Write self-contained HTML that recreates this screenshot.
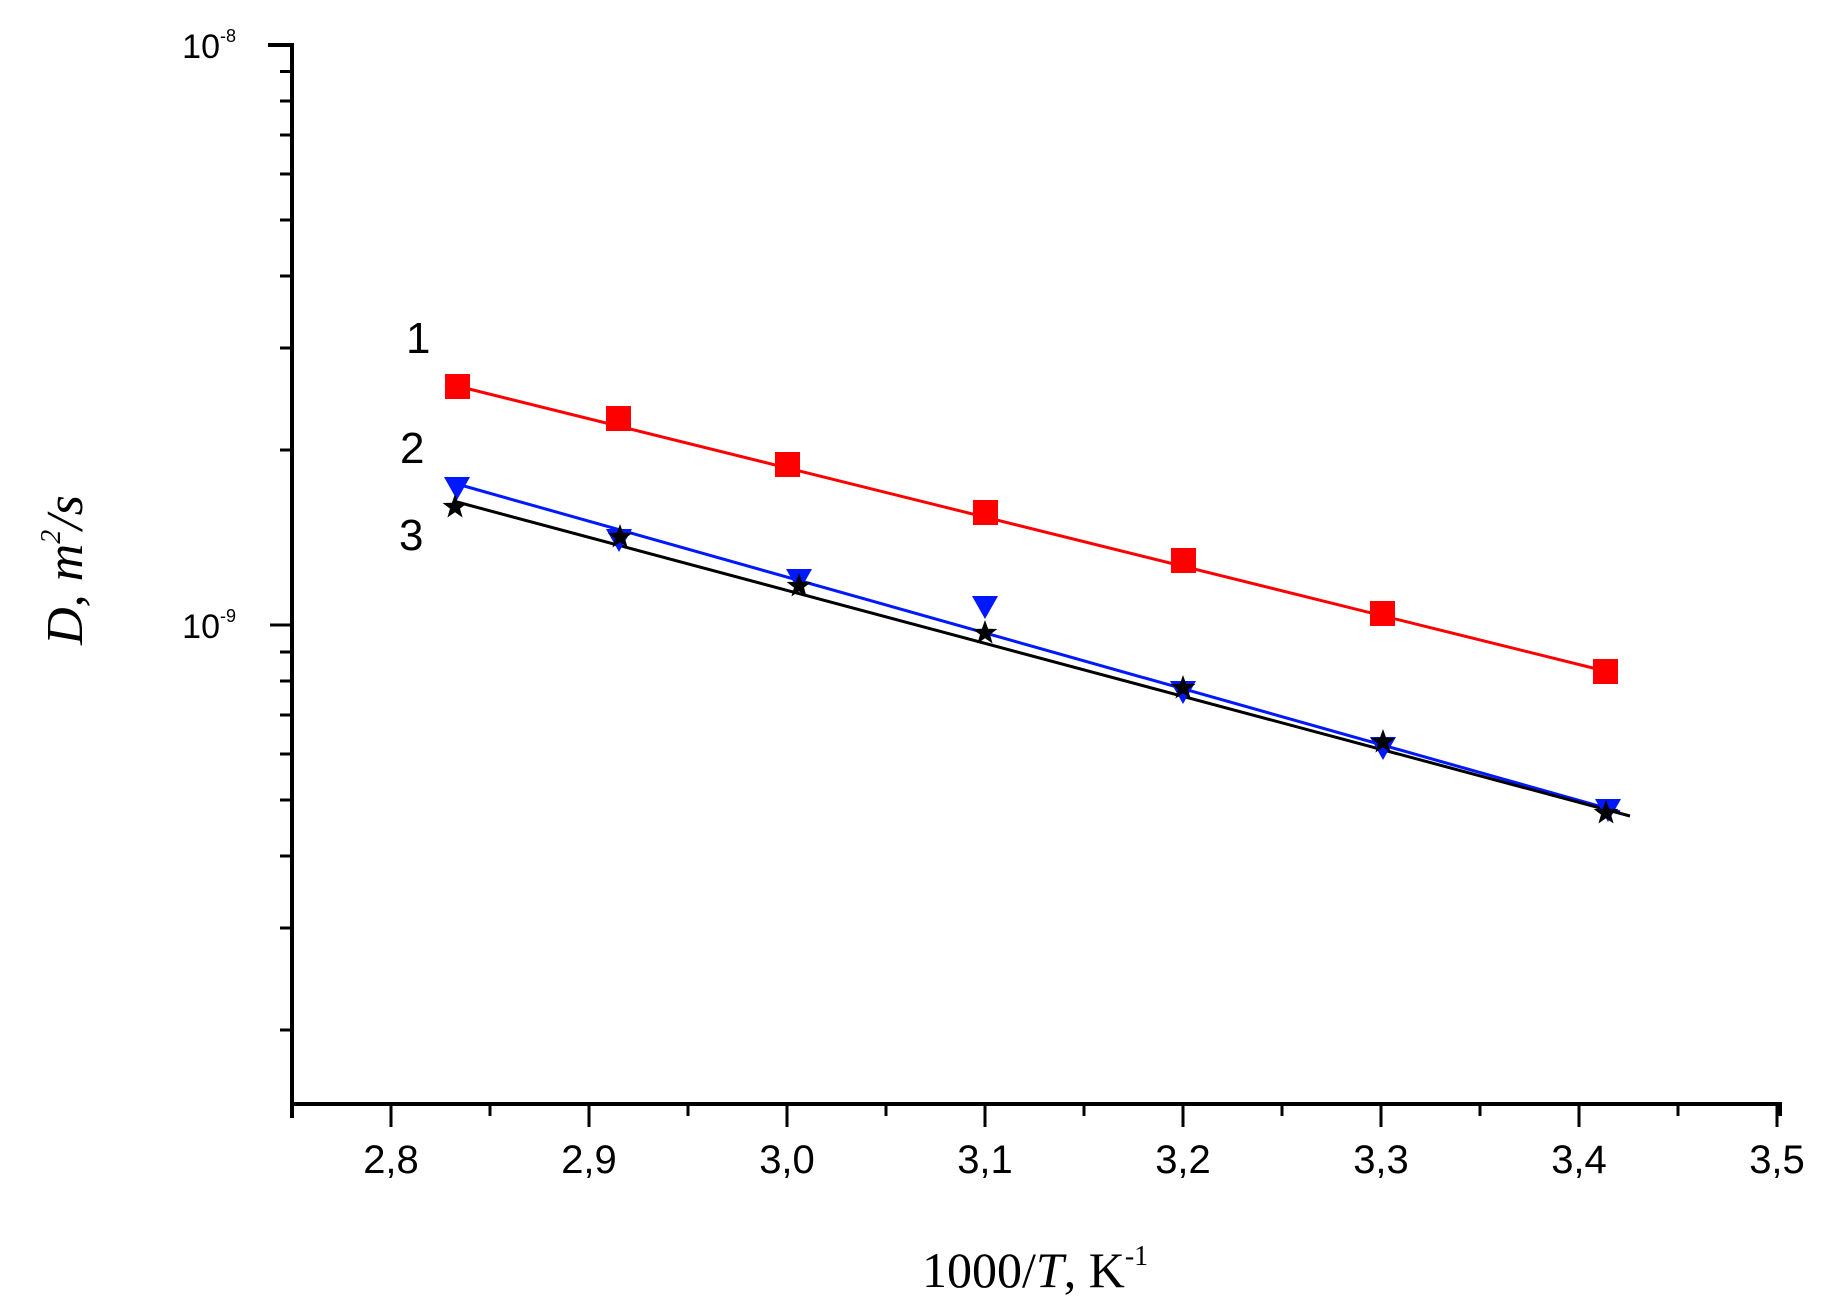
<!DOCTYPE html>
<html><head><meta charset="utf-8"><style>
html,body{margin:0;padding:0;background:#fff;}
svg{display:block;}
</style></head><body>
<svg width="1840" height="1315" viewBox="0 0 1840 1315" xmlns="http://www.w3.org/2000/svg">
<defs>
<polygon id="star" points="0,-13 3.1,-4.2 12.4,-4 5,1.6 7.6,10.5 0,5.2 -7.6,10.5 -5,1.6 -12.4,-4 -3.1,-4.2" fill="#000"/>
<polygon id="tri" points="-13,-11 13,-11 0,12" fill="#0018ff"/>
</defs>
<!-- axes -->
<g stroke="#000" stroke-width="4" fill="none">
<path d="M268 45 H292 V1104 H1780 V1116"/>
<path d="M292 1104 V1118"/>
</g>
<!-- y ticks -->
<g stroke="#000" stroke-width="3">
<line x1="270" y1="625" x2="292" y2="625"/>
<line x1="280" y1="71.5" x2="292" y2="71.5"/>
<line x1="280" y1="101" x2="292" y2="101"/>
<line x1="280" y1="135" x2="292" y2="135"/>
<line x1="280" y1="174" x2="292" y2="174"/>
<line x1="280" y1="220" x2="292" y2="220"/>
<line x1="280" y1="276" x2="292" y2="276"/>
<line x1="280" y1="348" x2="292" y2="348"/>
<line x1="280" y1="450" x2="292" y2="450"/>
<line x1="280" y1="652" x2="292" y2="652"/>
<line x1="280" y1="681" x2="292" y2="681"/>
<line x1="280" y1="715" x2="292" y2="715"/>
<line x1="280" y1="754" x2="292" y2="754"/>
<line x1="280" y1="800" x2="292" y2="800"/>
<line x1="280" y1="856" x2="292" y2="856"/>
<line x1="280" y1="928" x2="292" y2="928"/>
<line x1="280" y1="1030" x2="292" y2="1030"/>
</g>
<!-- x ticks -->
<g stroke="#000" stroke-width="3">
<line x1="391" y1="1104" x2="391" y2="1127"/>
<line x1="490" y1="1104" x2="490" y2="1116"/>
<line x1="589" y1="1104" x2="589" y2="1127"/>
<line x1="688" y1="1104" x2="688" y2="1116"/>
<line x1="787" y1="1104" x2="787" y2="1127"/>
<line x1="886" y1="1104" x2="886" y2="1116"/>
<line x1="985" y1="1104" x2="985" y2="1127"/>
<line x1="1084" y1="1104" x2="1084" y2="1116"/>
<line x1="1183" y1="1104" x2="1183" y2="1127"/>
<line x1="1282" y1="1104" x2="1282" y2="1116"/>
<line x1="1381" y1="1104" x2="1381" y2="1127"/>
<line x1="1480" y1="1104" x2="1480" y2="1116"/>
<line x1="1579" y1="1104" x2="1579" y2="1127"/>
<line x1="1678" y1="1104" x2="1678" y2="1116"/>
<line x1="1777" y1="1104" x2="1777" y2="1127"/>
</g>
<g font-family="Liberation Sans, sans-serif" font-size="40" fill="#000" text-anchor="middle">
<text x="391" y="1173">2,8</text>
<text x="589" y="1173">2,9</text>
<text x="787" y="1173">3,0</text>
<text x="985" y="1173">3,1</text>
<text x="1183" y="1173">3,2</text>
<text x="1381" y="1173">3,3</text>
<text x="1579" y="1173">3,4</text>
<text x="1777" y="1173">3,5</text>
</g>
<g font-family="Liberation Sans, sans-serif" font-size="34" fill="#000" text-anchor="end">
<text x="236" y="58">10<tspan font-size="18" dy="-16">-8</tspan></text>
<text x="236" y="638">10<tspan font-size="18" dy="-16">-9</tspan></text>
</g>
<!-- titles -->
<text x="922" y="1287" font-family="Liberation Serif, serif" font-size="50" fill="#000">1000/<tspan font-style="italic">T</tspan>, K<tspan font-size="28" dy="-22">-1</tspan></text>
<text transform="translate(82,570) rotate(-90)" text-anchor="middle" font-family="Liberation Serif, serif" font-size="52" font-style="italic" fill="#000">D, m<tspan font-size="28" dy="-22">2</tspan><tspan dy="22">/s</tspan></text>
<!-- labels -->
<g font-family="Liberation Sans, sans-serif" font-size="44" fill="#000">
<text x="406" y="353">1</text>
<text x="400" y="463">2</text>
<text x="399" y="550">3</text>
</g>
<!-- lines -->
<line x1="457" y1="386" x2="1605" y2="671" stroke="#ff0000" stroke-width="3"/>
<line x1="457" y1="484" x2="1620" y2="812" stroke="#0018ff" stroke-width="3"/>
<line x1="457" y1="502" x2="1630" y2="816" stroke="#000" stroke-width="3"/>
<!-- red squares -->
<g fill="#ff0000">
<rect x="445" y="374" width="25" height="25"/>
<rect x="606" y="406" width="25" height="25"/>
<rect x="775" y="452" width="25" height="25"/>
<rect x="973" y="500" width="25" height="25"/>
<rect x="1171" y="548" width="25" height="25"/>
<rect x="1370" y="601" width="25" height="25"/>
<rect x="1593" y="659" width="25" height="25"/>
</g>
<!-- blue triangles -->
<use href="#tri" x="457" y="488"/>
<use href="#tri" x="619" y="540"/>
<use href="#tri" x="799" y="580"/>
<use href="#tri" x="985" y="607"/>
<use href="#tri" x="1183" y="692"/>
<use href="#tri" x="1383" y="748"/>
<use href="#tri" x="1608" y="810"/>
<!-- stars -->
<use href="#star" x="455" y="507"/>
<use href="#star" x="620" y="537"/>
<use href="#star" x="799" y="586"/>
<use href="#star" x="985" y="633"/>
<use href="#star" x="1183" y="688"/>
<use href="#star" x="1383" y="742"/>
<use href="#star" x="1606" y="813"/>
</svg>
</body></html>
